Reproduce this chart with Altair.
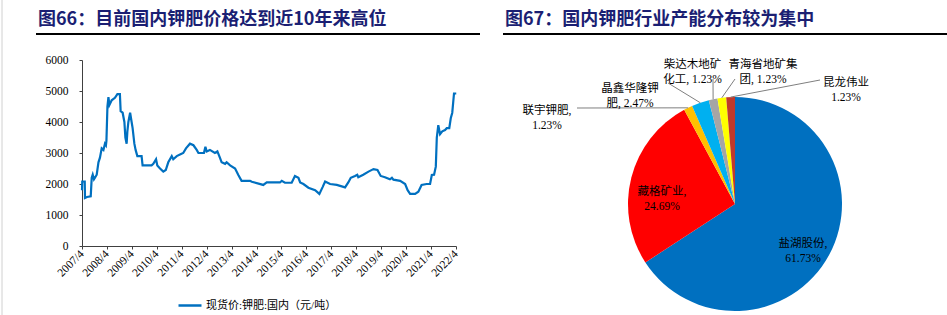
import math
import altair as alt
import pandas as pd

# ---------------- data: domestic potash spot price (decimal year, yuan/ton) ----------------
years = [2007.25, 2007.26, 2007.36, 2007.37, 2007.45, 2007.60, 2007.64, 2007.68, 2007.73, 2007.77,
         2007.84, 2007.91, 2007.97, 2008.04, 2008.11, 2008.17, 2008.21, 2008.23, 2008.27, 2008.31,
         2008.35, 2008.44, 2008.57, 2008.67, 2008.77, 2008.80, 2008.88, 2008.95, 2008.99, 2009.04,
         2009.07, 2009.11, 2009.18, 2009.24, 2009.28, 2009.35, 2009.40, 2009.47, 2009.64, 2009.68,
         2010.04, 2010.11, 2010.22, 2010.27, 2010.38, 2010.51, 2010.61, 2010.71, 2010.85, 2010.91,
         2011.05, 2011.18, 2011.31, 2011.42, 2011.58, 2011.72, 2011.85, 2011.92, 2012.14, 2012.20,
         2012.25, 2012.38, 2012.58, 2012.68, 2012.78, 2012.85, 2012.99, 2013.05, 2013.19, 2013.39,
         2013.52, 2013.65, 2013.99, 2014.06, 2014.52, 2014.66, 2015.19, 2015.26, 2015.39, 2015.66,
         2015.79, 2015.93, 2016.00, 2016.13, 2016.33, 2016.60, 2016.77, 2016.90, 2017.00, 2017.20,
         2017.47, 2017.80, 2017.93, 2018.03, 2018.20, 2018.29, 2018.33, 2018.53, 2018.74, 2018.94,
         2019.10, 2019.23, 2019.40, 2019.60, 2019.68, 2019.74, 2020.01, 2020.21, 2020.31, 2020.41,
         2020.61, 2020.74, 2020.87, 2021.07, 2021.21, 2021.28, 2021.37, 2021.44, 2021.48, 2021.54,
         2021.61, 2021.70, 2021.81, 2021.88, 2021.98, 2022.04, 2022.10, 2022.17, 2022.26]
prices = [1800, 2080, 2080, 1550, 1580, 1600, 2200, 2300, 2150, 2200,
          2300, 2700, 2850, 3150, 3100, 3300, 3250, 3400, 4500, 4800,
          4550, 4700, 4780, 4900, 4900, 4350, 4300, 4000, 3500, 3300,
          3700, 4000, 4300, 4000, 3800, 3300, 3100, 2900, 2900, 2600,
          2600, 2650, 2800, 2600, 2500, 2400, 2450, 2700, 2900, 2800,
          2900, 2950, 3000, 3150, 3300, 3250, 3100, 3000, 3000, 3200,
          3050, 3100, 3000, 3050, 2850, 2700, 2650, 2700, 2600, 2500,
          2290, 2100, 2100, 2070, 1970, 2050, 2050, 2100, 2040, 2040,
          2260, 2200, 2050, 2000, 1880, 1800, 1680, 1900, 2080, 2000,
          1970, 1890, 2050, 2200, 2260, 2300, 2220, 2300, 2400, 2480,
          2450, 2260, 2220, 2150, 2200, 2140, 2100, 2000, 1800, 1680,
          1680, 1750, 1970, 2000, 2000, 2290, 2300, 2560, 3500, 3900,
          3610, 3700, 3740, 3800, 3800, 4120, 4300, 4920, 4920]
series_name = "现货价:钾肥:国内（元/吨）"
tick_years = list(range(2007, 2023))
y_ticks = [0, 1000, 2000, 3000, 4000, 5000, 6000]

# ---------------- data: capacity shares ----------------
companies = ["盐湖股份", "藏格矿业", "联宇钾肥", "晶鑫华隆钾肥", "柴达木地矿化工", "青海省地矿集团", "昆龙伟业"]
shares = [61.73, 24.69, 1.23, 2.47, 1.23, 1.23, 1.23]
label_texts = ["盐湖股份,\n61.73%", "藏格矿业,\n24.69%", "联宇钾肥,\n1.23%", "晶鑫华隆钾\n肥, 2.47%",
               "柴达木地矿\n化工, 1.23%", "青海省地矿集\n团, 1.23%", "昆龙伟业\n1.23%"]

title_left = "图66：目前国内钾肥价格达到近10年来高位"
title_right = "图67：国内钾肥行业产能分布较为集中"

# ---------------- layout / style (canvas pixels) ----------------
CW, CH = 947, 315
OX, OY = 82, 60          # plot-area origin of the line chart
W, H = 374, 186
PIE_CX, PIE_CY, PIE_R = 735, 204, 107
slice_colors = ["#0070C0", "#FF0000", "#FFC000", "#00B0F0", "#A5A5A5", "#FFFF00", "#C0392B"]
label_pos = [(803, 244), (662, 192), (547, 111), (630, 88.5), (692.5, 65), (763, 65), (846, 83)]
leader_from = {2: (577, 108), 3: (668, 83), 4: (713, 79), 5: (735, 79), 6: (820, 80)}
NAVY = "#1b1f73"
SERIF = "Liberation Serif, Noto Sans CJK SC"

df_line = pd.DataFrame({"year": years, "price": prices, "series": series_name})
df_pie = pd.DataFrame({"company": companies, "share": shares, "idx": list(range(len(shares))),
                       "fill": slice_colors})

df_lab = pd.DataFrame({"label": label_texts,
                       "lx": [p[0] - OX for p in label_pos],
                       "ly": [p[1] - OY for p in label_pos]})

# leader lines: from label to the edge of the slice at its middle angle
total = sum(shares)
cum = 0.0
mids = []
for s in shares:
    mids.append((cum + s / 2) / total * 2 * math.pi)
    cum += s
rows = []
for i, (fx, fy) in leader_from.items():
    a = mids[i]
    ex = PIE_CX + PIE_R * math.sin(a)
    ey = PIE_CY - PIE_R * math.cos(a)
    rows.append({"x1": fx - OX, "y1": fy - OY, "x2": ex - OX, "y2": ey - OY})
df_lead = pd.DataFrame(rows)

df_titles = pd.DataFrame({"t": [title_left, title_right],
                          "tx": [38 - OX, 505 - OX], "ty": [20 - OY, 20 - OY]})
df_trules = pd.DataFrame({"x1": [36 - OX, 503 - OX], "x2": [480 - OX, CW - OX], "y": [34 - OY, 34 - OY]})
df_one = pd.DataFrame({"k": [0]})

line = alt.Chart(df_line).mark_line(strokeWidth=2.2).encode(
    x=alt.X("year:Q", scale=alt.Scale(domain=[2007.25, 2022.25], nice=False, zero=False),
            axis=alt.Axis(values=[y + 0.25 for y in tick_years], labelExpr="floor(datum.value) + '/4'",
                          labelAngle=315, labelAlign="right", labelBaseline="middle",
                          labelFontSize=11.5, tickSize=3, labelPadding=3, title=None, grid=False,
                          labelOverlap=False)),
    y=alt.Y("price:Q", scale=alt.Scale(domain=[0, 6000], nice=False),
            axis=alt.Axis(values=y_ticks, format="d", labelFontSize=11.5, tickSize=3, labelPadding=11,
                          title=None, grid=False)),
    color=alt.Color("series:N", scale=alt.Scale(range=["#0070C0"]),
                    legend=alt.Legend(orient="none", legendX=177 - OX, legendY=304 - OY - 11.5,
                                      symbolType="stroke", symbolSize=529, symbolStrokeWidth=2.5,
                                      labelFont=SERIF, labelFontSize=11, labelColor="#000",
                                      labelOffset=3, padding=0, title=None)),
)

pie = alt.Chart(df_pie).mark_arc(radius=PIE_R).encode(
    theta=alt.Theta("share:Q", stack=True),
    order=alt.Order("idx:Q"),
    fill=alt.Fill("fill:N", scale=None),
    x=alt.value(PIE_CX - OX),
    y=alt.value(PIE_CY - OY),
)

leads = alt.Chart(df_lead).mark_rule(color="#7f7f7f", strokeWidth=1).encode(
    x=alt.X("x1:Q", scale=None, axis=None), y=alt.Y("y1:Q", scale=None, axis=None),
    x2="x2:Q", y2="y2:Q")

labels = alt.Chart(df_lab).mark_text(font=SERIF, fontSize=11.5, lineBreak="\n", lineHeight=15,
                                     align="center", baseline="middle", color="#000").encode(
    x=alt.X("lx:Q", scale=None, axis=None), y=alt.Y("ly:Q", scale=None, axis=None), text="label:N")

titles = alt.Chart(df_titles).mark_text(font="Noto Sans CJK SC", fontSize=18, fontWeight="bold",
                                        color=NAVY, align="left", baseline="middle").encode(
    x=alt.X("tx:Q", scale=None, axis=None), y=alt.Y("ty:Q", scale=None, axis=None), text="t:N")

trules = alt.Chart(df_trules).mark_rule(color="#000", strokeWidth=2).encode(
    x=alt.X("x1:Q", scale=None, axis=None), x2="x2:Q", y=alt.Y("y:Q", scale=None, axis=None))

border = alt.Chart(df_one).mark_rule(color="#d0d0d0", strokeWidth=1).encode(
    x=alt.value(2 - OX), y=alt.value(-OY), y2=alt.value(CH - OY))

chart = alt.layer(border, trules, titles, line, pie, leads, labels).properties(
    width=W, height=H,
    padding={"left": OX, "top": OY, "right": CW - OX - W, "bottom": CH - OY - H},
    autosize=alt.AutoSizeParams(type="none"),
    background="white",
).configure_view(stroke=None).configure_axis(
    domainColor="#404040", tickColor="#404040", labelColor="#000",
    labelFont="Liberation Serif", labelFontSize=11,
)

chart.save("out.html", embed_options={"renderer": "svg", "actions": False})
